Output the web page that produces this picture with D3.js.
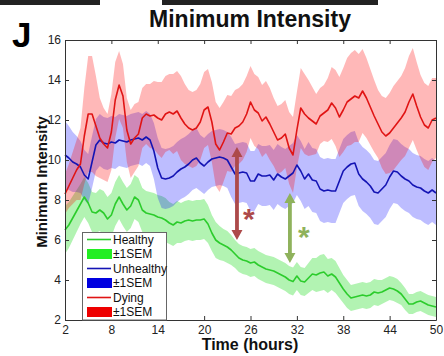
<!DOCTYPE html>
<html>
<head>
<style>
  body {
    margin: 0;
    background-color: #fff;
  }

  svg {
    display: block;
  }

  .tick text {
    font-family: "Liberation Sans", Arial, sans-serif;
    font-size: 12px;
    fill: #222;
  }
</style>
  <script src="https://d3js.org/d3.v7.min.js"></script>
</head>
<body>
<script>
// minimum intensity over time, mean +- 1 SEM per group
const hours = d3.range(2, 50.25, 0.5);

const xTicks = [2, 8, 14, 20, 26, 32, 38, 44, 50];
const yTicks = [2, 4, 6, 8, 10, 12, 14, 16];

const healthy = [
  6.5, 6.75, 7.1, 7.45, 7.8, 8.15, 7.85, 7.4, 7.35, 7.5,
  7.35, 7.05, 7.25, 7.8, 8.15, 7.8, 7.5, 7.7, 8.15, 8.0,
  7.5, 7.35, 7.3, 7.25, 7.15, 7.1, 7.0, 6.85, 6.75, 6.9,
  6.85, 6.95, 7.0, 6.95, 7.0, 7.0, 7.05, 6.8, 6.35, 6.0,
  5.85, 5.75, 5.65, 5.5, 5.3, 5.1, 5.0, 4.95, 4.85, 4.9,
  4.75, 4.65, 4.55, 4.5, 4.45, 4.35, 4.25, 4.15, 4.0, 3.92,
  4.2, 3.95, 3.9, 4.1, 4.3, 4.25, 4.35, 4.4, 4.2, 4.3,
  4.15, 3.85, 3.55, 3.3, 3.1, 3.15, 3.2, 3.25, 3.2, 3.25,
  3.4, 3.35, 3.4, 3.5, 3.6, 3.55, 3.45, 3.3, 3.05, 2.8,
  2.8, 2.9, 2.95, 2.85, 2.75, 2.7, 2.65
];
const healthySem = [
  1.2, 1.15, 1.1, 1.05, 1.0, 1.0, 1.0, 1.0, 1.0, 1.05,
  1.1, 1.1, 1.1, 1.1, 1.1, 1.1, 1.1, 1.1, 1.1, 1.1,
  1.1, 1.1, 1.1, 1.1, 1.1, 1.1, 1.1, 1.05, 1.05, 1.05,
  1.0, 1.0, 1.0, 1.0, 1.0, 1.0, 1.0, 0.95, 0.9, 0.9,
  0.85, 0.8, 0.8, 0.75, 0.7, 0.7, 0.7, 0.7, 0.7, 0.7,
  0.7, 0.7, 0.7, 0.7, 0.7, 0.7, 0.7, 0.7, 0.7, 0.7,
  0.7, 0.7, 0.7, 0.75, 0.8, 0.85, 0.9, 0.9, 0.85, 0.8,
  0.8, 0.75, 0.7, 0.7, 0.65, 0.65, 0.65, 0.65, 0.65, 0.65,
  0.65, 0.65, 0.6, 0.6, 0.6, 0.6, 0.6, 0.55, 0.55, 0.5,
  0.5, 0.5, 0.5, 0.5, 0.5, 0.5, 0.5
];

const unhealthy = [
  10.25, 10.1, 9.9, 9.8, 9.65, 9.25, 9.05, 9.9, 10.75, 11.0,
  10.85, 10.8, 10.9, 10.85, 11.0, 10.95, 10.9, 11.0, 11.05, 11.1,
  11.0, 11.15, 11.0, 10.45, 9.6, 9.1, 9.05, 9.1, 9.2, 9.4,
  9.55, 9.65, 9.8, 10.0, 10.1, 9.85, 9.7, 9.9, 10.05, 10.1,
  10.15, 10.1, 10.0, 9.65, 9.3, 9.35, 9.4, 9.35, 8.95, 8.95,
  9.3, 9.2, 9.2, 9.25, 9.0, 9.3, 9.15, 9.05, 9.2, 9.35,
  9.75, 9.45, 9.05, 9.3, 9.0, 8.95, 8.55, 8.45, 8.5, 8.45,
  8.45, 8.95, 9.45, 9.65, 9.8, 9.85, 9.3, 9.05, 8.9, 8.7,
  8.4, 8.35, 8.55, 8.75, 9.15, 9.45, 9.4, 9.2, 9.05, 8.95,
  8.75, 8.65, 8.6, 8.45, 8.35, 8.5, 8.35
];
const unhealthySem = [
  1.7, 1.6, 1.5, 1.4, 1.3, 1.25, 1.25, 1.3, 1.3, 1.3,
  1.3, 1.3, 1.3, 1.3, 1.3, 1.3, 1.3, 1.3, 1.3, 1.3,
  1.3, 1.3, 1.3, 1.4, 1.5, 1.5, 1.5, 1.5, 1.5, 1.5,
  1.5, 1.5, 1.5, 1.5, 1.5, 1.4, 1.4, 1.4, 1.4, 1.4,
  1.4, 1.4, 1.4, 1.5, 1.5, 1.5, 1.5, 1.5, 1.5, 1.5,
  1.5, 1.5, 1.5, 1.5, 1.5, 1.5, 1.5, 1.5, 1.5, 1.5,
  1.5, 1.5, 1.5, 1.6, 1.6, 1.6, 1.6, 1.6, 1.6, 1.6,
  1.6, 1.6, 1.6, 1.6, 1.6, 1.6, 1.6, 1.6, 1.6, 1.6,
  1.6, 1.6, 1.6, 1.6, 1.6, 1.6, 1.6, 1.6, 1.6, 1.6,
  1.6, 1.6, 1.6, 1.6, 1.6, 1.6, 1.6
];

const dying = [
  8.3, 8.7, 9.1, 9.5, 9.8, 11.2, 12.3, 12.3, 11.7, 11.1,
  10.8, 10.6, 11.4, 13.0, 13.75, 13.2, 11.5, 10.8, 11.1, 11.3,
  12.1, 12.3, 12.2, 12.25, 12.1, 12.0, 12.3, 12.4, 12.3, 12.45,
  12.1, 11.8, 11.6, 11.5, 11.6, 11.9, 12.5, 12.65, 11.9, 10.8,
  10.5, 10.9, 11.35, 11.3, 11.6, 11.7, 11.9, 12.3, 12.9, 12.5,
  12.35, 11.95, 12.15, 11.8, 11.4, 11.0, 11.1, 11.3, 10.6, 10.25,
  11.5, 12.6, 12.3, 12.1, 11.95, 11.8, 12.2, 12.35, 12.5, 12.85,
  12.6, 12.15, 12.5, 12.9, 13.05, 13.2, 13.1, 13.45, 13.1, 12.65,
  12.2, 11.8, 11.4, 11.2, 11.35, 11.6, 11.85, 12.1, 12.4, 12.9,
  13.3, 12.7, 12.15, 11.75, 11.6, 12.0, 12.1
];
const dyingSem = [
  1.0, 1.1, 1.3, 1.5, 1.8, 2.4, 2.9, 2.9, 2.5, 2.0,
  1.8, 1.7, 1.9, 1.9, 1.7, 1.6, 1.6, 1.7, 1.7, 1.6,
  1.5, 1.5, 1.6, 1.7, 1.8, 1.9, 1.9, 1.9, 2.0, 2.0,
  2.1, 2.0, 1.9, 1.9, 1.9, 1.9, 1.9, 1.9, 2.0, 2.1,
  2.1, 2.0, 1.9, 1.9, 1.9, 1.9, 1.9, 1.9, 1.8, 1.8,
  1.8, 1.8, 1.8, 1.8, 1.7, 1.7, 1.7, 1.7, 1.8, 1.9,
  1.9, 2.0, 2.0, 1.9, 1.7, 1.5, 1.4, 1.4, 1.6, 1.8,
  1.9, 2.0, 2.1, 2.2, 2.3, 2.3, 2.2, 2.1, 2.0, 1.9,
  1.8, 1.7, 1.8, 1.9, 2.0, 2.1, 2.1, 2.1, 2.2, 2.3,
  2.3, 2.2, 2.1, 2.1, 2.1, 2.1, 2.0
];

const legendLabels = ['Healthy', '\u00b11SEM', 'Unhealthy', '\u00b11SEM', 'Dying', '\u00b11SEM'];

// significance arrows: [hour, from value, to value, star hour, star value]
const arrowRed = [24.25, 10.65, 6.0, 25.8, 7.4];
const arrowGreen = [31.1, 8.35, 4.85, 32.9, 6.5];

const series = [
  { mean: healthy, sem: healthySem, line: '#2ccc2c', band: 'rgba(20, 220, 20, 0.33)', patch: '#22ee22' },
  { mean: unhealthy, sem: unhealthySem, line: '#1414b4', band: 'rgba(0, 0, 255, 0.26)', patch: '#0000e0' },
  { mean: dying, sem: dyingSem, line: '#e01414', band: 'rgba(255, 0, 0, 0.28)', patch: '#ee0000' },
];

const width = 444;
const height = 356;

const svg = d3.select('body')
  .append('svg')
  .attr('width', width)
  .attr('height', height);

const x = d3.scaleLinear().domain([2, 50]).range([65, 436]);
const y = d3.scaleLinear().domain([2, 16]).range([320, 40]);

// strips of the neighbouring panel at the very top
svg.append('rect').attr('x', 0).attr('y', 0).attr('width', 100).attr('height', 5).attr('fill', '#222');
svg.append('rect').attr('x', 162).attr('y', 0).attr('width', 216).attr('height', 5).attr('fill', '#222');

const idx = d3.range(hours.length);

series.forEach(s => {
  const area = d3.area()
    .x(i => x(hours[i]))
    .y0(i => y(s.mean[i] - s.sem[i]))
    .y1(i => y(s.mean[i] + s.sem[i]));
  svg.append('path')
    .datum(idx)
    .attr('fill', s.band)
    .attr('d', area);
});

series.forEach(s => {
  const line = d3.line()
    .x(i => x(hours[i]))
    .y(i => y(s.mean[i]));
  svg.append('path')
    .datum(idx)
    .attr('fill', 'none')
    .attr('stroke', s.line)
    .attr('stroke-width', 1.6)
    .attr('stroke-linejoin', 'round')
    .attr('d', line);
});

const drawArrow = (a, color) => {
  const cx = x(a[0]);
  const top = y(a[1]);
  const bottom = y(a[2]);
  const hw = 5.5;
  const sw = 1.9;
  const hl = 10;
  const pts = [
    [cx, top], [cx + hw, top + hl], [cx + sw, top + hl],
    [cx + sw, bottom - hl], [cx + hw, bottom - hl], [cx, bottom],
    [cx - hw, bottom - hl], [cx - sw, bottom - hl], [cx - sw, top + hl],
    [cx - hw, top + hl],
  ];
  svg.append('path')
    .attr('d', 'M' + pts.map(p => p.join(',')).join('L') + 'Z')
    .attr('fill', color);
  // the asterisk glyph sits high in its em box, so shift the baseline down
  svg.append('text')
    .attr('x', x(a[3]))
    .attr('y', y(a[4]) + 17)
    .attr('text-anchor', 'middle')
    .attr('font-family', '"Liberation Sans", Arial, sans-serif')
    .attr('font-size', 30)
    .attr('font-weight', 'bold')
    .attr('fill', color)
    .text('*');
};

drawArrow(arrowRed, '#ad4a4a');
drawArrow(arrowGreen, '#8fb25c');

// axes, MATLAB box with inward ticks
const axisColor = '#333';
svg.append('g')
  .attr('transform', 'translate(0,320)')
  .style('color', axisColor)
  .call(d3.axisBottom(x).tickValues(xTicks).tickSizeInner(-4).tickSizeOuter(0).tickPadding(5));
svg.append('g')
  .attr('transform', 'translate(65,0)')
  .style('color', axisColor)
  .call(d3.axisLeft(y).tickValues(yTicks).tickSizeInner(-4).tickSizeOuter(0).tickPadding(4));
svg.append('g')
  .attr('transform', 'translate(0,40)')
  .style('color', axisColor)
  .call(d3.axisTop(x).tickValues(xTicks).tickSizeInner(-4).tickSizeOuter(0).tickFormat(''));
svg.append('g')
  .attr('transform', 'translate(436,0)')
  .style('color', axisColor)
  .call(d3.axisRight(y).tickValues(yTicks).tickSizeInner(-4).tickSizeOuter(0).tickFormat(''));

// legend
const legend = svg.append('g');
legend.append('rect')
  .attr('x', 82.5)
  .attr('y', 232.5)
  .attr('width', 84)
  .attr('height', 87.5)
  .attr('fill', '#fff')
  .attr('stroke', '#666');

legendLabels.forEach((label, i) => {
  const s = series[Math.floor(i / 2)];
  const ly = 239.5 + i * 14.5;
  if (i % 2 === 0) {
    legend.append('line')
      .attr('x1', 87).attr('x2', 111)
      .attr('y1', ly).attr('y2', ly)
      .attr('stroke', s.line)
      .attr('stroke-width', 1.6);
  } else {
    legend.append('rect')
      .attr('x', 87).attr('y', ly - 5)
      .attr('width', 25).attr('height', 10)
      .attr('fill', s.patch);
  }
  legend.append('text')
    .attr('x', 113)
    .attr('y', ly + 4.3)
    .attr('font-family', '"Liberation Sans", Arial, sans-serif')
    .attr('font-size', 12)
    .attr('fill', '#111')
    .text(label);
});

// titles
svg.append('text')
  .attr('x', 250)
  .attr('y', 27)
  .attr('text-anchor', 'middle')
  .attr('font-family', '"Liberation Sans", Arial, sans-serif')
  .attr('font-size', 23)
  .attr('font-weight', 'bold')
  .attr('fill', '#111')
  .text('Minimum Intensity');

svg.append('text')
  .attr('x', 12)
  .attr('y', 47)
  .attr('font-family', '"Liberation Sans", Arial, sans-serif')
  .attr('font-size', 35)
  .attr('font-weight', 'bold')
  .attr('fill', '#000')
  .text('J');

svg.append('text')
  .attr('transform', 'translate(47,182) rotate(-90)')
  .attr('text-anchor', 'middle')
  .attr('font-family', '"Liberation Sans", Arial, sans-serif')
  .attr('font-size', 15)
  .attr('font-weight', 'bold')
  .attr('fill', '#111')
  .text('Minimum Intensity');

svg.append('text')
  .attr('x', 250)
  .attr('y', 350)
  .attr('text-anchor', 'middle')
  .attr('font-family', '"Liberation Sans", Arial, sans-serif')
  .attr('font-size', 16)
  .attr('font-weight', 'bold')
  .attr('fill', '#111')
  .text('Time (hours)');
</script>
</body>
</html>
